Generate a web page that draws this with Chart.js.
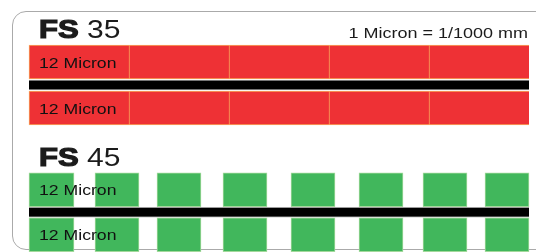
<!DOCTYPE html>
<html>
<head>
<meta charset="utf-8">
<script src="https://cdn.jsdelivr.net/npm/chart.js@4"></script>
<style>
  html, body { margin: 0; padding: 0; background: #fff; }
  #wrap { position: relative; width: 536px; height: 252px; overflow: hidden; }
  #frame {
    position: absolute; left: 12px; top: 11px; width: 560px; height: 239px;
    border: 1.5px solid #aaaaaa; border-radius: 14px; box-sizing: border-box;
  }
  .panel { position: absolute; left: 0; width: 536px; height: 126px; }
  #fs35 { top: 0; }
  #fs45 { top: 126px; }
</style>
</head>
<body>
<div id="wrap">
  <div id="frame"></div>
  <div class="panel" id="fs35"><canvas id="c35" width="536" height="126"></canvas></div>
  <div class="panel" id="fs45"><canvas id="c45" width="536" height="126"></canvas></div>
</div>
<script>
// rows of each filter sketch: outer layer, core, outer layer
const rows = ["top", "core", "bottom"]
const rowLabel = "12 Micron"
const widthMax = 500

// FS 35: continuous layer cut into equal panels
const fs35Edges = [0, 100, 200, 300, 400, 500]
// FS 45: separate blocks with gaps between them
const fs45Blocks = [[0, 45], [66, 110], [128, 172], [194, 238], [262, 306], [330, 374], [394, 438], [456, 500]]
const coreSpan = [0, 500]

const titles = { fs35: ["FS", " 35"], fs45: ["FS", " 45"] }
const note = "1 Micron = 1/1000 mm"

const fs35Cells = fs35Edges.slice(0, -1).map((e, i) => [e, fs35Edges[i + 1]])

const layerPoints = (spans) =>
  ["top", "bottom"].flatMap((r) => spans.map((s) => ({ x: s, y: r })))

// stretched text like the original artwork
function wideText(ctx, text, x, y, font, scale, align) {
  ctx.save()
  ctx.font = font
  ctx.textAlign = align || "left"
  ctx.textBaseline = "alphabetic"
  ctx.translate(x, y)
  ctx.scale(scale, 1)
  ctx.fillText(text, 0, 0)
  ctx.restore()
}

const textPlugin = {
  id: "sketchText",
  afterDatasetsDraw(chart, args, opts) {
    const ctx = chart.ctx
    const area = chart.chartArea
    const yScale = chart.scales.y
    ctx.save()
    ctx.fillStyle = "#1b1b1b"
    // heading: bold "FS" then the model number
    ctx.font = "bold 25px 'Liberation Sans'"
    const fsW = ctx.measureText(opts.title[0]).width * 1.24
    ctx.save()
    ctx.translate(area.left + 10, opts.titleY)
    ctx.scale(1.24, 1)
    ctx.strokeStyle = "#1b1b1b"
    ctx.lineWidth = 1.2
    ctx.strokeText(opts.title[0], 0, 0)
    ctx.fillText(opts.title[0], 0, 0)
    ctx.restore()
    wideText(ctx, opts.title[1], area.left + 10 + fsW, opts.titleY, "25px 'Liberation Sans'", 1.2)
    if (opts.note) {
      wideText(ctx, opts.note, area.right - 1, opts.titleY, "15px 'Liberation Sans'", 1.2, "right")
    }
    // layer labels
    ctx.fillStyle = "#111"
    ;["top", "bottom"].forEach((r) => {
      const yc = yScale.getPixelForValue(rows.indexOf(r))
      wideText(ctx, rowLabel, area.left + 10, yc + 5.5, "14px 'Liberation Sans'", 1.26)
    })
    ctx.restore()
  },
}

function makeChart(id, spans, fill, edge, padTop, titleY, withNote) {
  const cellBorder = spans === fs35Cells ? { top: 1, bottom: 1, left: 1, right: 0 } : 1
  return new Chart(document.getElementById(id), {
    type: "bar",
    data: {
      labels: rows,
      datasets: [
        {
          data: layerPoints(spans),
          backgroundColor: fill,
          borderColor: edge,
          borderWidth: cellBorder,
          borderSkipped: false,
          barThickness: 34,
        },
        {
          data: [{ x: coreSpan, y: "core" }],
          backgroundColor: "#000",
          borderColor: "#9c9c9c",
          borderWidth: { top: 1, bottom: 1, left: 0, right: 0 },
          borderSkipped: false,
          barThickness: 10,
        },
      ],
    },
    options: {
      indexAxis: "y",
      responsive: false,
      animation: false,
      layout: { padding: { left: 29, right: 7, top: padTop, bottom: 126 - padTop - (id === "c35" ? 69 : 67.5) } },
      datasets: { bar: { grouped: false, clip: false } },
      plugins: {
        legend: { display: false },
        tooltip: { enabled: false },
        sketchText: { title: titles[id === "c35" ? "fs35" : "fs45"], titleY: titleY, note: withNote ? note : null },
      },
      scales: {
        x: { type: "linear", min: 0, max: widthMax, display: false },
        y: { type: "category", display: false },
      },
    },
    plugins: [textPlugin],
  })
}

makeChart("c35", fs35Cells, "#ee3135", "#f9a95c", 50.5, 38, true)
makeChart("c45", fs45Blocks, "#41b75c", "#a3d99b", 52.5, 39.5, false)
</script>
</body>
</html>
